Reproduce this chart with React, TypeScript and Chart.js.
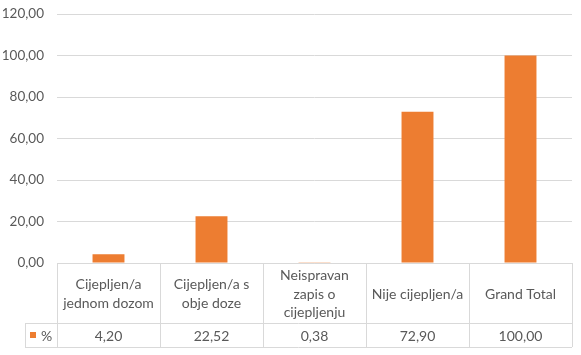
import React, { useEffect, useRef } from "react";
import { Chart, registerables } from "chart.js";

Chart.register(...registerables);

const categories: string[][] = [
  ["Cijepljen/a", "jednom dozom"],
  ["Cijepljen/a s", "obje doze"],
  ["Neispravan", "zapis o", "cijepljenju"],
  ["Nije cijepljen/a"],
  ["Grand Total"],
];
const seriesName = "%";
const values = [4.2, 22.52, 0.38, 72.9, 100.0];
const yTicks = [0, 20, 40, 60, 80, 100, 120];

const BAR_COLOR = "#ED7D31";
const TEXT_COLOR = "#595959";
const LINE_COLOR = "#D9D9D9";
const FONT = "Lato, 'Open Sans', sans-serif";

const fmt = (v: number) => v.toFixed(2).replace(".", ",");

const tablePlugin = {
  id: "dataTable",
  afterDraw(chart: any) {
    const ctx = chart.ctx as CanvasRenderingContext2D;
    const xs = chart.scales.x;
    const area = chart.chartArea;
    const n = categories.length;
    const step = (area.right - area.left) / n;
    const top = Math.round(area.bottom);
    const mid = top + 60;
    const bottom = top + 84;
    const legendLeft = 25;
    ctx.save();
    ctx.strokeStyle = LINE_COLOR;
    ctx.lineWidth = 1;
    ctx.beginPath();
    for (let i = 0; i <= n; i++) {
      const x = Math.round(area.left + step * i) + 0.5;
      ctx.moveTo(x, top);
      ctx.lineTo(x, bottom);
    }
    ctx.moveTo(legendLeft + 0.5, mid);
    ctx.lineTo(legendLeft + 0.5, bottom);
    ctx.moveTo(legendLeft, mid + 0.5);
    ctx.lineTo(area.right, mid + 0.5);
    ctx.moveTo(legendLeft, bottom + 0.5);
    ctx.lineTo(area.right, bottom + 0.5);
    ctx.moveTo(area.left, top + 0.5);
    ctx.lineTo(area.right, top + 0.5);
    ctx.stroke();

    ctx.fillStyle = TEXT_COLOR;
    ctx.font = `14px ${FONT}`;
    ctx.textAlign = "center";
    ctx.textBaseline = "middle";
    const lineH = 18.5;
    const headerMid = (top + mid) / 2 + 1;
    categories.forEach((lines, i) => {
      const cx = xs.getPixelForValue(i);
      const startY = headerMid - ((lines.length - 1) * lineH) / 2;
      lines.forEach((ln, j) => ctx.fillText(ln, cx, startY + j * lineH));
      ctx.fillText(fmt(values[i]), cx, (mid + bottom) / 2 + 1);
    });
    ctx.fillStyle = BAR_COLOR;
    ctx.fillRect(30, (mid + bottom) / 2 - 3, 6, 6);
    ctx.fillStyle = TEXT_COLOR;
    ctx.textAlign = "left";
    ctx.fillText(seriesName, 41, (mid + bottom) / 2 + 1);
    ctx.restore();
  },
};

export default function App() {
  const ref = useRef<HTMLCanvasElement>(null);
  useEffect(() => {
    if (!ref.current) return;
    const chart = new Chart(ref.current, {
      type: "bar",
      data: {
        labels: categories.map((c) => c.join(" ")),
        datasets: [
          {
            label: seriesName,
            data: values,
            backgroundColor: BAR_COLOR,
            categoryPercentage: 1,
            barPercentage: 0.31,
          },
        ],
      },
      options: {
        animation: false,
        responsive: false,
        maintainAspectRatio: false,
        layout: { padding: { top: 14, right: 9, bottom: 92, left: 0 } },
        plugins: { legend: { display: false }, tooltip: { enabled: false } },
        scales: {
          x: { display: false },
          y: {
            min: 0,
            max: 120,
            afterBuildTicks: (scale: any) => {
              scale.ticks = yTicks.map((v) => ({ value: v }));
            },
            afterFit: (scale: any) => {
              scale.width = 57;
              scale.paddingTop = 0;
              scale.paddingBottom = 0;
            },
            border: { display: false },
            grid: { color: LINE_COLOR, drawTicks: false },
            ticks: {
              padding: 13,
              color: TEXT_COLOR,
              font: { family: FONT, size: 13.5 },
              callback: (v: any) => fmt(Number(v)),
            },
          },
        },
      },
      plugins: [tablePlugin],
    });
    return () => chart.destroy();
  }, []);
  return (
    <div style={{ position: "absolute", left: 0, top: 0, width: 581, height: 355, background: "#fff" }}>
      <canvas ref={ref} width={581} height={355} style={{ display: "block" }} />
    </div>
  );
}
